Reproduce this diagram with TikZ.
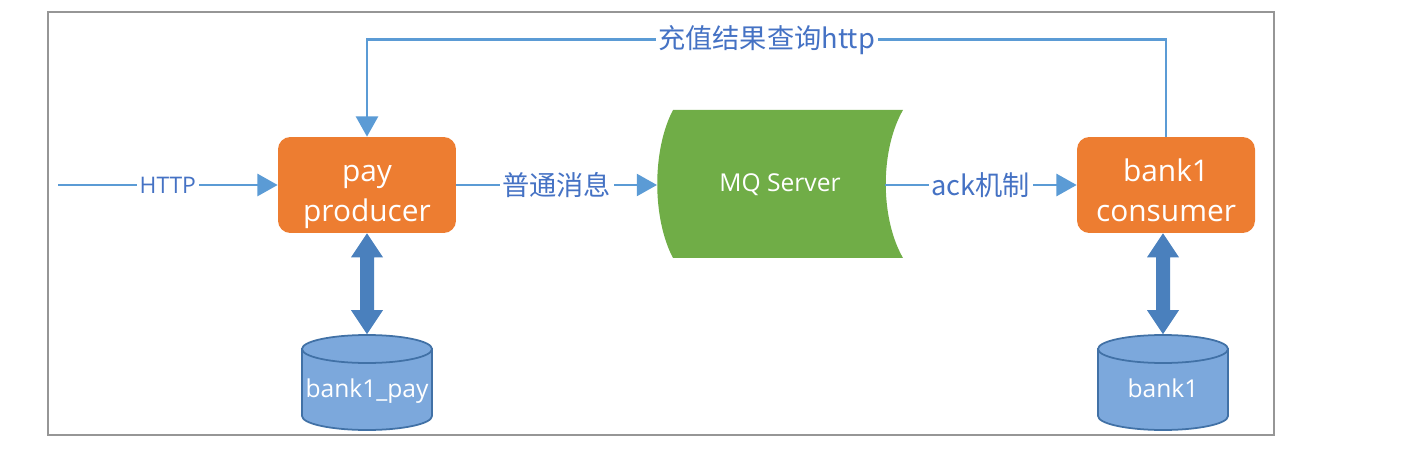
\documentclass[tikz,border=0pt]{standalone}
\usepackage{fontspec}
\setmainfont{Open Sans}
\newfontfamily\cjk{Noto Sans CJK SC}
\usetikzlibrary{arrows.meta,calc}
\definecolor{frame}{RGB}{150,150,150}
\definecolor{orangebox}{RGB}{237,125,49}
\definecolor{greenbox}{RGB}{112,173,71}
\definecolor{conn}{RGB}{91,155,213}
\definecolor{lbltext}{RGB}{69,114,196}
\definecolor{dblblue}{RGB}{74,128,189}
\definecolor{cylfill}{RGB}{124,168,220}
\definecolor{cylline}{RGB}{65,113,166}
\newcommand\twolines[2]{\raisebox{-21pt}[0pt][0pt]{\begin{tabular}[b]{@{}c@{}}#1\\#2\end{tabular}}}
\newcommand\dbtext[1]{\raisebox{-8.5pt}[0pt][0pt]{#1}}
\tikzset{
  procbox/.style={fill=orangebox, rounded corners=7pt, minimum width=3.56cm, minimum height=1.92cm,
    inner sep=0pt, text=white, font=\fontsize{17}{23}\selectfont},
  conline/.style={draw=conn, line width=1.5pt, -{Triangle[length=11.5pt,width=12.5pt]}},
  lbl/.style={fill=white, inner sep=1.5pt, text=lbltext, font=\fontsize{13}{15}\selectfont},
  cjklbl/.style={fill=white, inner sep=1.5pt, text=lbltext, font=\cjk\fontsize{15.5}{17}\selectfont},
  dbnode/.style={minimum width=2.62cm, minimum height=1.94cm, inner sep=0pt, text=white,
    font=\fontsize{14}{16}\selectfont},
  cyl/.style={fill=cylfill, draw=cylline, line width=1pt},
  dbl/.style={fill=dblblue},
}
\begin{document}
\begin{tikzpicture}[x=0.02cm,y=-0.02cm]
\useasboundingbox (0,0) rectangle (1408,452);
\draw[frame, line width=0.9pt] (48,12) rectangle (1274,435);

% MQ server shape
\fill[greenbox] (673,110) -- (903,110) .. controls (880,150) and (880,218) .. (903,258)
  -- (673,258) .. controls (652,218) and (652,150) .. (673,110) -- cycle;
\node[text=white, font=\fontsize{14}{16}\selectfont] (mq) at (780,185) {MQ Server};
\coordinate (mqin) at (657,185);
\coordinate (mqout) at (885,185);

% boxes
\node[procbox] (pp) at (367,185) {\twolines{pay}{producer}};
\node[procbox] (cons) at (1166,185) {\twolines{bank1}{consumer}};

% cylinders
\fill[cyl] (302,349) -- (302,416) arc[start angle=180,end angle=0,x radius=65,y radius=14] -- (432,349) -- cycle;
\draw[cyl] (367,349) ellipse[x radius=65,y radius=14];
\node[dbnode] (db1) at (367,383) {\dbtext{bank1\_pay}};

\fill[cyl] (1098,349) -- (1098,416) arc[start angle=180,end angle=0,x radius=65,y radius=14] -- (1228,349) -- cycle;
\draw[cyl] (1163,349) ellipse[x radius=65,y radius=14];
\node[dbnode] (db2) at (1163,383) {\dbtext{bank1}};

% double arrows
\fill[dbl] (pp.south) -- ++(16,24) -- ++(-9,0) -- ($(db1.north)+(7,-24)$) -- ++(9,0) -- (db1.north)
  -- ++(-16,-24) -- ++(9,0) -- ($(pp.south)+(-7,24)$) -- ++(-9,0) -- cycle;
\fill[dbl] ($(cons.south)+(-3,0)$) coordinate (cs) -- ++(16,24) -- ++(-9,0) -- ($(db2.north)+(7,-24)$) -- ++(9,0) -- (db2.north)
  -- ++(-16,-24) -- ++(9,0) -- ($(cs)+(-7,24)$) -- ++(-9,0) -- cycle;

% connectors
\coordinate (start) at (58,185);
\draw[conline] (start) -- node[lbl] {HTTP} (pp.west);
\draw[conline] (pp.east) -- node[cjklbl] {普通消息} (mqin);
\draw[conline] (mqout) -- node[cjklbl] {ack机制} (cons.west);
\draw[conline] (cons.north) -- ++(0,-97) -| node[pos=0.25, cjklbl] {充值结果查询http} (pp.north);
\end{tikzpicture}
\end{document}
